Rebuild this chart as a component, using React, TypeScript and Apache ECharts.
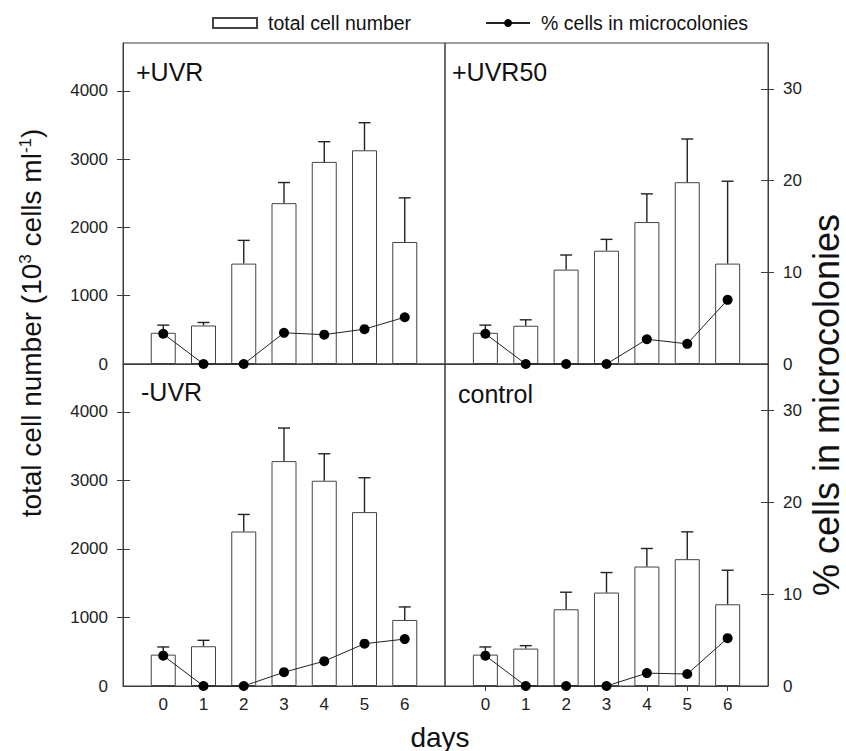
import React, { useEffect, useRef } from 'react';
import * as echarts from 'echarts';

const days = [0, 1, 2, 3, 4, 5, 6];
const panelNames = ['+UVR', '+UVR50', '-UVR', 'control'];

// total cell number (10^3 cells ml-1), mean and upper error
const cellsUVR = [457, 564, 1470, 2355, 2959, 3129, 1786];
const errUVR = [112, 44, 340, 302, 296, 404, 647];
const cellsUVR50 = [457, 560, 1382, 1659, 2078, 2662, 1470];
const errUVR50 = [112, 87, 214, 166, 413, 632, 1206];
const cellsNoUVR = [458, 580, 2255, 3283, 2996, 2538, 964];
const errNoUVR = [112, 87, 249, 482, 394, 502, 190];
const cellsControl = [458, 546, 1120, 1364, 1744, 1851, 1193];
const errControl = [112, 43, 249, 292, 263, 399, 497];

// % cells in microcolonies
const pctUVR = [3.3, 0, 0, 3.4, 3.2, 3.8, 5.1];
const pctUVR50 = [3.3, 0, 0, 0, 2.7, 2.2, 7.0];
const pctNoUVR = [3.3, 0, 0, 1.5, 2.7, 4.6, 5.1];
const pctControl = [3.3, 0, 0, 0, 1.4, 1.3, 5.2];

const cellTickLabels = [0, 1000, 2000, 3000, 4000];
const pctTickLabels = [0, 10, 20, 30];

const FONT = '"Liberation Sans", Arial, Helvetica, sans-serif';
const INK = '#222';
const FRAME = '#3c3c3c';

const plain = (v: number) => String(v);

export default function App() {
  const ref = useRef<HTMLDivElement>(null);

  useEffect(() => {
    if (!ref.current) return;
    const chart = echarts.init(ref.current, undefined, { renderer: 'svg' });

    const cells = [cellsUVR, cellsUVR50, cellsNoUVR, cellsControl];
    const errs = [errUVR, errUVR50, errNoUVR, errControl];
    const pcts = [pctUVR, pctUVR50, pctNoUVR, pctControl];

    const grids = [
      { left: 123, top: 43, width: 322, height: 321 },
      { left: 445, top: 43, width: 323, height: 321 },
      { left: 123, top: 364, width: 322, height: 322 },
      { left: 445, top: 364, width: 323, height: 322 },
    ].map((g) => ({ ...g, show: true, borderColor: FRAME, borderWidth: 1, backgroundColor: 'transparent' }));

    const xAxes: any[] = [];
    const yAxes: any[] = [];
    const series: any[] = [];

    for (let i = 0; i < 4; i++) {
      const isLeft = i % 2 === 0;
      const isBottom = i >= 2;
      xAxes.push({
        gridIndex: i,
        type: 'value',
        min: -1,
        max: 7,
        interval: 1,
        axisLine: { show: true, onZero: false, lineStyle: { color: FRAME, width: 1 } },
        axisTick: {
          show: isBottom && !isLeft,
          customValues: days,
          length: 5,
          lineStyle: { color: FRAME },
        },
        axisLabel: {
          show: isBottom,
          customValues: days,
          formatter: plain,
          fontSize: 17,
          color: INK,
          fontFamily: FONT,
          margin: 10,
        },
        splitLine: { show: false },
      });

      const cellAxisIndex = yAxes.length;
      yAxes.push({
        gridIndex: i,
        type: 'value',
        min: 0,
        max: 4700,
        position: 'left',
        show: isLeft,
        axisLine: { show: true, onZero: false, lineStyle: { color: FRAME } },
        axisTick: { show: true, customValues: [1000, 2000, 3000, 4000], length: 6, lineStyle: { color: FRAME } },
        axisLabel: { customValues: cellTickLabels, formatter: plain, fontSize: 17, color: INK, fontFamily: FONT, margin: 15 },
        splitLine: { show: false },
      });
      const pctAxisIndex = yAxes.length;
      yAxes.push({
        gridIndex: i,
        type: 'value',
        min: 0,
        max: 35,
        position: 'right',
        show: !isLeft,
        axisLine: { show: true, onZero: false, lineStyle: { color: FRAME } },
        axisTick: { show: true, customValues: [10, 20, 30], length: 6, lineStyle: { color: FRAME } },
        axisLabel: { customValues: pctTickLabels, formatter: plain, fontSize: 17, color: INK, fontFamily: FONT, margin: 15 },
        splitLine: { show: false },
      });
      // inner half of the crossing ticks
      yAxes.push({
        gridIndex: i,
        type: 'value',
        min: 0,
        max: isLeft ? 4700 : 35,
        position: isLeft ? 'left' : 'right',
        axisLine: { show: false, onZero: false },
        axisTick: {
          show: true,
          inside: true,
          customValues: isLeft ? [1000, 2000, 3000, 4000] : [10, 20, 30],
          length: 7,
          lineStyle: { color: FRAME },
        },
        axisLabel: { show: false },
        splitLine: { show: false },
      });

      series.push({
        name: 'total cell number',
        type: 'bar',
        xAxisIndex: i,
        yAxisIndex: cellAxisIndex,
        data: days.map((d, j) => [d, cells[i][j]]),
        barWidth: 25,
        itemStyle: { color: '#fff', borderColor: '#444', borderWidth: 1 },
        z: 2,
      });
      series.push({
        name: 'error',
        type: 'custom',
        xAxisIndex: i,
        yAxisIndex: cellAxisIndex,
        data: days.map((d, j) => [d, cells[i][j], cells[i][j] + errs[i][j]]),
        encode: { x: 0, y: [1, 2] },
        renderItem: (params: any, api: any) => {
          const x = api.value(0);
          const base = api.coord([x, api.value(1)]);
          const top = api.coord([x, api.value(2)]);
          const hw = 6;
          const st = { stroke: '#222', lineWidth: 1.4 };
          return {
            type: 'group',
            children: [
              { type: 'line', shape: { x1: base[0], y1: base[1], x2: top[0], y2: top[1] }, style: st },
              { type: 'line', shape: { x1: top[0] - hw, y1: top[1], x2: top[0] + hw, y2: top[1] }, style: st },
            ],
          };
        },
        z: 3,
      });
      series.push({
        name: '% cells in microcolonies',
        type: 'line',
        xAxisIndex: i,
        yAxisIndex: pctAxisIndex,
        data: days.map((d, j) => [d, pcts[i][j]]),
        symbol: 'circle',
        symbolSize: 10,
        clip: false,
        itemStyle: { color: '#000' },
        lineStyle: { color: '#222', width: 1 },
        z: 5,
      });
    }

    const panelPos = [
      [136, 72],
      [452, 72],
      [141, 392],
      [458, 394],
    ];

    const graphics: any[] = panelNames.map((n, i) => ({
      type: 'text',
      x: panelPos[i][0],
      y: panelPos[i][1],
      style: { text: n, fontSize: 25, fontFamily: FONT, fill: '#111', align: 'left', verticalAlign: 'middle' },
      z: 10,
    }));

    graphics.push({
      type: 'text',
      x: 31,
      y: 323,
      rotation: Math.PI / 2,
      style: {
        text: '{a|total cell number (10}{b|3}{a| cells ml}{b|-1}{a|)}',
        align: 'center',
        verticalAlign: 'middle',
        fill: '#111',
        rich: {
          a: { fontSize: 28, fontFamily: FONT, fill: '#111', verticalAlign: 'bottom' },
          b: { fontSize: 17, fontFamily: FONT, fill: '#111', verticalAlign: 'top' },
        },
      },
      z: 10,
    });
    graphics.push({
      type: 'text',
      x: 826,
      y: 405,
      rotation: Math.PI / 2,
      style: {
        text: '% cells in microcolonies',
        fontSize: 36,
        fontFamily: FONT,
        fill: '#111',
        align: 'center',
        verticalAlign: 'middle',
      },
      z: 10,
    });
    graphics.push({
      type: 'text',
      x: 440,
      y: 737,
      style: { text: 'days', fontSize: 28, fontFamily: FONT, fill: '#111', align: 'center', verticalAlign: 'middle' },
      z: 10,
    });

    chart.setOption({
      animation: false,
      backgroundColor: '#fff',
      legend: {
        left: 212,
        top: 13,
        padding: 0,
        itemWidth: 44,
        itemHeight: 10,
        itemGap: 74,
        selectedMode: false,
        textStyle: { fontSize: 19.5, color: '#111', fontFamily: FONT, padding: [0, 0, 0, 6] },
        data: [{ name: 'total cell number', icon: 'rect' }, { name: '% cells in microcolonies' }],
      },
      grid: grids,
      xAxis: xAxes,
      yAxis: yAxes,
      series,
      graphic: graphics,
    });

    return () => chart.dispose();
  }, []);

  return <div ref={ref} style={{ position: 'absolute', left: 0, top: 0, width: 846, height: 751 }} />;
}
